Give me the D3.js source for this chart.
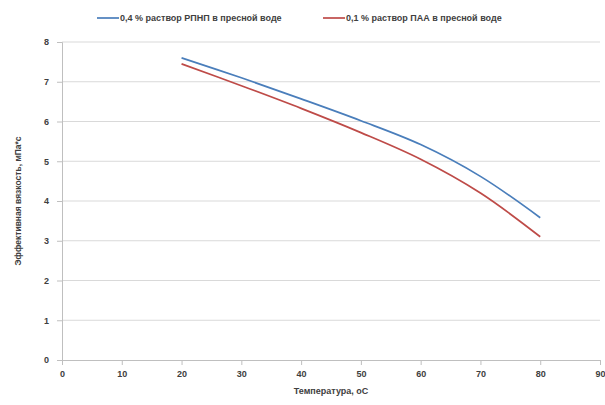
<!DOCTYPE html>
<html>
<head>
<meta charset="utf-8">
<script src="https://cdn.jsdelivr.net/npm/d3@7"></script>
<style>
  body { margin: 0; background: #fff; }
  text { font-family: 'Liberation Sans', Arial, sans-serif; font-weight: bold; fill: #404040; }
</style>
</head>
<body>
<div class="canvas"></div>
<script>
// data
const temps = [20, 30, 40, 50, 60, 70, 80]
const rpnp = [7.6, 7.1, 6.57, 6.02, 5.42, 4.62, 3.58]
const paa = [7.45, 6.9, 6.33, 5.72, 5.05, 4.2, 3.1]
const seriesNames = ['0,4 % раствор РПНП в пресной воде', '0,1 % раствор ПАА в пресной воде']
const seriesColors = ['#4a7ebb', '#be4b48']
const xTicks = [0, 10, 20, 30, 40, 50, 60, 70, 80, 90]
const yTicks = [0, 1, 2, 3, 4, 5, 6, 7, 8]

const width = 605
const height = 405
const plotLeft = 62, plotRight = 600, plotTop = 42, plotBottom = 360

const svg = d3.select('.canvas')
  .append('svg')
  .attr('width', width)
  .attr('height', height)

const x = d3.scaleLinear().domain([0, 90]).range([plotLeft, plotRight])
const y = d3.scaleLinear().domain([0, 8]).range([plotBottom, plotTop])

// gridlines
svg.append('g')
  .selectAll('line')
  .data(yTicks.filter(d => d > 0))
  .enter().append('line')
  .attr('x1', plotLeft).attr('x2', plotRight)
  .attr('y1', d => y(d)).attr('y2', d => y(d))
  .attr('stroke', '#d9d9d9')
  .attr('stroke-width', 1)

// axes
const yAxis = svg.append('g')
  .attr('transform', `translate(${plotLeft},0)`)
  .call(d3.axisLeft(y).tickValues(yTicks).tickSize(5).tickPadding(8))
const xAxis = svg.append('g')
  .attr('transform', `translate(0,${plotBottom})`)
  .call(d3.axisBottom(x).tickValues(xTicks).tickSize(5).tickPadding(6))

;[xAxis, yAxis].forEach(ax => {
  ax.select('.domain').attr('stroke', '#bfbfbf')
  ax.selectAll('.tick line').attr('stroke', '#bfbfbf')
  ax.selectAll('.tick text')
    .attr('font-size', 9)
    .attr('font-family', 'Liberation Sans, Arial, sans-serif')
    .attr('font-weight', 'bold')
    .attr('fill', '#404040')
})

// lines
const line = d3.line()
  .x((d, i) => x(temps[i]))
  .y(d => y(d))
  .curve(d3.curveCatmullRom.alpha(0.5))

;[rpnp, paa].forEach((s, i) => {
  svg.append('path')
    .datum(s)
    .attr('fill', 'none')
    .attr('stroke', seriesColors[i])
    .attr('stroke-width', 1.7)
    .attr('d', line)
})

// axis titles
svg.append('text')
  .attr('x', (plotLeft + plotRight) / 2)
  .attr('y', 394)
  .attr('text-anchor', 'middle')
  .attr('font-size', 9)
  .text('Температура, оС')

svg.append('text')
  .attr('transform', `translate(21, ${(plotTop + plotBottom) / 2}) rotate(-90)`)
  .attr('text-anchor', 'middle')
  .attr('font-size', 8.5)
  .text('Эффективная вязкость, мПа*с')

// legend
const legendX = [97, 323]
seriesNames.forEach((name, i) => {
  const g = svg.append('g').attr('transform', `translate(${legendX[i]}, 18)`)
  g.append('line')
    .attr('x1', 0).attr('x2', 22)
    .attr('stroke', seriesColors[i])
    .attr('stroke-width', 1.7)
  g.append('text')
    .attr('x', 23)
    .attr('y', 3)
    .attr('font-size', 9)
    .text(name)
})
</script>
</body>
</html>
